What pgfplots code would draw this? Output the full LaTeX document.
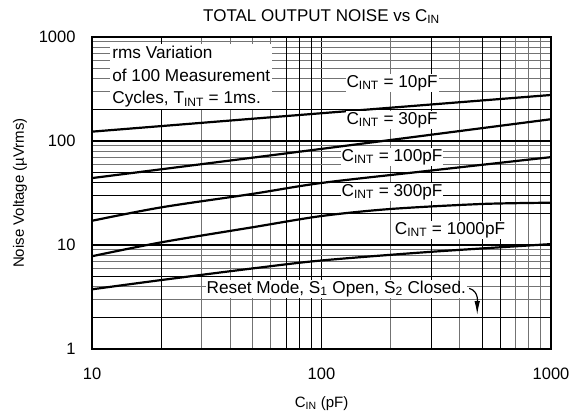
\documentclass[border=0pt]{standalone}
\usepackage{fontspec}
\setmainfont{Liberation Sans}
\usepackage{pgfplots}
\pgfplotsset{compat=1.18}
\usetikzlibrary{arrows.meta}

\newcommand{\lbl}{\fontsize{17.2}{22.5}\selectfont}
\pgfplotsset{curve/.style={black, line width=2.2pt, smooth, mark=none}}

\begin{document}
\begin{tikzpicture}
\begin{axis}[
    xmode=log, ymode=log,
    scale only axis, width=459pt, height=312pt,
    xmin=10, xmax=1000, ymin=1, ymax=1000,
    axis line style={line width=2pt},
    xtick={10,100,1000}, xticklabels={10,100,1000},
    ytick={1,10,100,1000}, yticklabels={1,10,100,1000},
    major tick length=0pt, minor tick length=0pt,
    grid=both,
    major grid style={black, line width=1.6pt},
    minor grid style={black!55, line width=0.8pt},
    extra x ticks={20,70,80,90,300,500,600},
    extra x tick labels={},
    extra x tick style={grid=major, major grid style={black, line width=0.8pt}},
    extra y ticks={5,20,30,40,50,200},
    extra y tick labels={},
    extra y tick style={grid=major, major grid style={black, line width=0.8pt}},
    ticklabel style={font=\fontsize{16.5}{19}\selectfont},
    yticklabel style={xshift=-13pt},
    xticklabel style={yshift=-15pt},
    title={TOTAL OUTPUT NOISE vs C\textsubscript{IN}},
    title style={font=\fontsize{17}{20}\selectfont, at={(axis description cs:0.5,1.046)}, anchor=center},
    xlabel={C\textsubscript{IN} (pF)},
    xlabel style={font=\fontsize{15}{18}\selectfont, at={(axis description cs:0.5,-0.175)}, anchor=center},
    ylabel={Noise Voltage (µVrms)},
    ylabel style={font=\fontsize{15}{18}\selectfont, at={(axis description cs:-0.157,0.5)}, anchor=center},
]
% C_INT = 10pF
\addplot[curve] coordinates {(10,123) (100,185) (1000,277)};
% C_INT = 30pF
\addplot[curve] coordinates {(10,44) (100,84) (1000,162)};
% C_INT = 100pF
\addplot[curve] coordinates {(10,17.1) (20,23) (50,31) (100,39.5) (300,52) (1000,70)};
% C_INT = 300pF
\addplot[curve] coordinates {(10,7.8) (20,10.6) (50,14.8) (100,19) (200,22.2) (500,24.8) (1000,25.5)};
% C_INT = 1000pF
\addplot[curve] coordinates {(10,3.75) (20,4.6) (50,5.95) (100,7.1) (300,8.6) (1000,10.2)};

\draw[line width=1.6pt] (axis cs:10,2) -- (axis cs:1000,2);

\node[fill=white, anchor=north west, align=left, inner sep=2pt, font=\lbl]
    at (axis cs:12,857) {rms Variation\\of 100 Measurement\\Cycles, T\textsubscript{INT} = 1ms.};
\node[fill=white, inner sep=1pt, font=\lbl] at (axis cs:203,361) {C\textsubscript{INT} = 10pF};
\node[fill=white, inner sep=1pt, font=\lbl] at (axis cs:203,159) {C\textsubscript{INT} = 30pF};
\node[fill=white, inner sep=1pt, font=\lbl] at (axis cs:203,70) {C\textsubscript{INT} = 100pF};
\node[fill=white, inner sep=1pt, font=\lbl] at (axis cs:203,32.3) {C\textsubscript{INT} = 300pF};
\node[fill=white, inner sep=1pt, font=\lbl] at (axis cs:363,13.9) {C\textsubscript{INT} = 1000pF};
\node[fill=white, inner sep=1pt, font=\lbl] at (axis cs:116,3.78) {Reset Mode, S\textsubscript{1} Open, S\textsubscript{2} Closed.};
\draw[line width=1.2pt, -{Latex[length=14pt,width=5.5pt]}]
    (axis cs:440,3.83) to[out=-15,in=90] (axis cs:477,2.12);
\end{axis}
\pgfresetboundingbox
\path[use as bounding box] (-92pt,-65pt) rectangle (485pt,349pt);
\end{tikzpicture}
\end{document}
